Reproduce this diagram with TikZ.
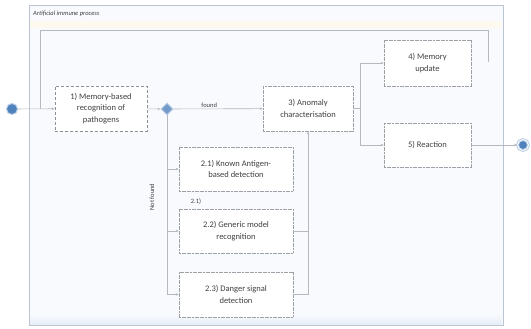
\documentclass[tikz,border=0pt]{standalone}
\usepackage{fontspec}
\setmainfont{Carlito}
\usetikzlibrary{arrows.meta,shapes.geometric}
\definecolor{lineg}{HTML}{B4B9C0}
\definecolor{boxg}{HTML}{9CA1A8}
\definecolor{bpmnblue}{HTML}{4F81BD}
\definecolor{bpmnlight}{HTML}{B8CCE4}
\definecolor{poolfill}{HTML}{F8FAFD}
\definecolor{poolline}{HTML}{BCC6D2}
\definecolor{headband}{HTML}{FDF9EF}
\definecolor{txt}{HTML}{404040}
\tikzset{
  task/.style={draw=boxg, line width=0.6pt, dash pattern=on 2pt off 0.6pt, fill=white, align=center,
    font=\fontsize{8.5}{11.5}\selectfont, text=txt, inner sep=1pt},
  flow/.style={draw=lineg, line width=0.6pt, -{Stealth[length=3pt,width=2.5pt]}},
  plainflow/.style={draw=lineg, line width=0.6pt},
  lbl/.style={font=\fontsize{6.5}{8}\selectfont, text=txt, inner sep=1pt}
}
\begin{document}
\begin{tikzpicture}[x=1pt,y=-1pt]
\useasboundingbox (0,0) rectangle (531,329);
% pool
\fill[poolfill] (29,5) rectangle (503,325);
\fill[headband] (30,21) rectangle (502,28);
\shade[top color=poolfill, bottom color=bpmnlight!35] (30,314) rectangle (502,325);
\draw[poolline, line width=0.8pt] (29,5) rectangle (503,325);
\node[lbl, anchor=west, font=\fontsize{6.5}{8}\selectfont\itshape] (pooltitle) at (32,14) {Artificial immune process};

% events and tasks
\node[circle, fill=bpmnblue, draw=bpmnlight, line width=1pt, minimum size=11pt, inner sep=0pt] (start) at (12,109) {};
\node[task, densely dashed, draw=boxg!90!black, minimum width=92pt, minimum height=45pt] (b1) at (101,108.5) {1) Memory-based\\recognition of\\pathogens};
\node[diamond, fill=bpmnblue!80, draw=bpmnlight, line width=1pt, minimum size=12pt, inner sep=0pt] (gw) at (167,109) {};
\node[task, minimum width=90pt, minimum height=45pt] (b3) at (308,108.5) {3) Anomaly\\characterisation};
\node[task, minimum width=87pt, minimum height=46pt] (b4) at (427.5,63) {4) Memory\\update};
\node[task, minimum width=87pt, minimum height=44pt] (b5) at (427.5,145) {5) Reaction};
\node[circle, fill=bpmnblue, draw=bpmnlight, double=white, double distance=0.8pt, line width=1pt, minimum size=11pt, inner sep=0pt] (end) at (523,145) {};
\node[task, minimum width=114pt, minimum height=44pt] (b21) at (236,169) {2.1) Known Antigen-\\based detection};
\node[task, minimum width=114pt, minimum height=44pt] (b22) at (236,231) {2.2) Generic model\\recognition};
\node[task, minimum width=114pt, minimum height=45pt] (b23) at (236,294.5) {2.3) Danger signal\\detection};

% coordinates
\coordinate (loopin) at (40,109);
\coordinate (loopend) at (488,62);
\coordinate (split) at (360,108.5);

% flows
\draw[flow] (start) -- (b1);
\draw[plainflow] (loopend) |- (40,30) -- (loopin);
\draw[flow] (b1) -- (gw);
\draw[flow] (gw) -- node[lbl, above, pos=0.4] (lfound) {found} (b3);
\draw[flow] (gw.south) |- (b21.west);
\draw[flow] (gw.south) |- (b22.west);
\draw[flow] (gw.south) |- (b23.west);
\node[lbl, rotate=90] (lnotfound) at (152,197) {Not found};
\node[lbl] (l21) at (196,202) {2.1)};
\draw[flow] (b23.east) -| (b3.south);
\draw[plainflow] (b22.east) -- (b22.east -| b3.south);
\draw[plainflow] (b3.east) -- (split);
\draw[flow] (split) |- (b4.west);
\draw[flow] (split) |- (b5.west);
\draw[flow] (b5) -- (end);
\end{tikzpicture}
\end{document}
